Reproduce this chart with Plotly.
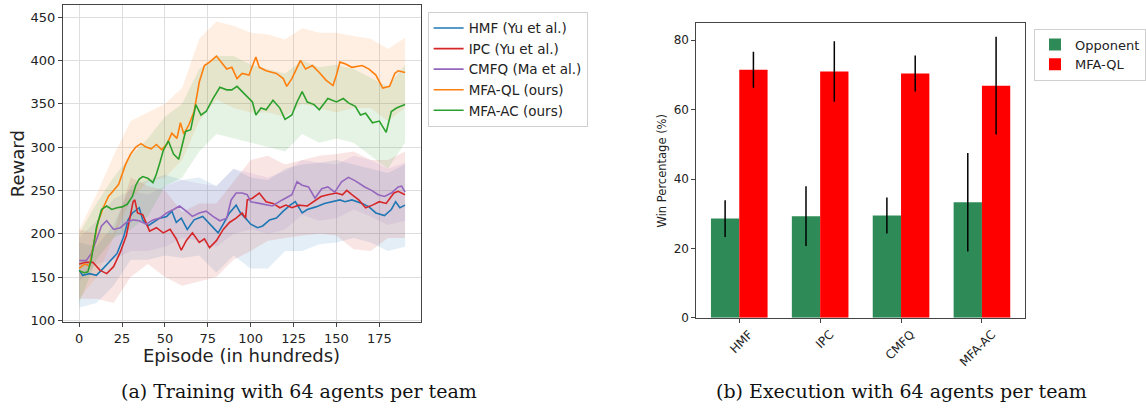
import plotly.graph_objects as go

# ---------------- Training curves (left) ----------------
ep_hmf = [0, 2, 6, 10, 14, 18, 22, 26, 28.5, 31, 35, 37, 40, 43, 47, 51, 54, 56.6, 59.5, 63, 67, 72, 76, 81, 84,
          87.6, 91.5, 94, 97, 100, 104, 107, 111, 115, 119, 123, 126, 130, 133, 138, 143, 148, 152, 155, 159, 165,
          169, 173, 178, 182, 184.5, 187, 190]
hmf_mean = [158, 152, 154, 152, 160, 169, 177, 197, 216, 224, 230, 216, 209, 213, 218, 220, 226, 213, 218, 205, 216,
            220, 211, 201, 211, 224, 233, 224, 218, 211, 207, 209, 216, 218, 226, 233, 237, 224, 228, 231, 235, 237,
            239, 237, 239, 235, 231, 224, 221, 228, 237, 230, 233]

ep_ipc = [0, 4, 8, 12, 16, 20, 24, 27.5, 31.4, 32.4, 34, 37, 41, 45, 49, 53, 56.6, 59.5, 62.4, 66, 70, 73, 76, 80, 84,
          87.6, 91.5, 95, 97, 98, 101, 105, 109, 113, 117, 120.5, 124, 128, 133, 137, 141, 145, 150, 153.5, 156, 159,
          163, 167, 171, 175, 179, 183.5, 186, 190]
ipc_mean = [165, 167, 167, 158, 154, 162, 179, 198, 237, 239, 224, 222, 203, 207, 201, 205, 194, 181, 192, 201, 190,
            194, 184, 192, 205, 213, 218, 224, 218, 239, 241, 247, 237, 235, 230, 233, 230, 233, 232, 237, 243, 245,
            247, 245, 250, 245, 239, 230, 233, 237, 235, 247, 249, 245]

ep_cmfq = [0, 4, 7, 10, 13, 16, 20, 24, 27.5, 31.4, 35, 39, 43, 47, 51, 55, 58.5, 62.4, 66, 70, 74, 78, 82, 86, 88.6,
           91.5, 95, 98, 100, 105, 112.6, 118.4, 124, 127, 130, 133.7, 137.5, 141.4, 145, 149, 153, 157, 161, 166.5,
           170.5, 174.3, 178, 182, 186, 188, 190]
cmfq_mean = [169, 169, 177, 194, 209, 215, 205, 207, 213, 216, 215, 211, 216, 218, 224, 228, 232, 226, 220, 224, 226,
             220, 215, 218, 239, 247, 247, 245, 237, 235, 232, 239, 245, 260, 256, 254, 241, 252, 254, 248, 260, 265,
             261, 254, 250, 245, 243, 247, 254, 255, 248]

ep_mfaql = [0, 3, 6, 8, 11, 14, 17, 20, 23, 27, 30, 33, 36, 39, 42, 45, 48, 51, 54, 57, 59, 61, 64, 67, 70, 73, 76, 80,
            83, 86, 89, 92, 95, 99, 103, 105, 109, 115, 119, 121, 124, 129, 132, 136, 140, 144, 148, 150, 152, 155,
            159, 165, 169, 173, 177, 181, 184, 186, 190]
mfaql_mean = [160, 165, 163, 184, 214, 230, 243, 250, 257, 280, 292, 300, 304, 300, 298, 303, 297, 303, 316, 310, 328,
              315, 326, 341, 375, 394, 398, 405, 398, 390, 392, 379, 385, 383, 404, 392, 388, 385, 379, 370, 379, 400,
              390, 394, 386, 377, 371, 383, 398, 396, 392, 394, 390, 383, 368, 370, 385, 388, 386]

ep_mfaac = [0, 3, 5, 7, 10, 13, 16, 19, 22, 25, 28, 31, 33, 35, 37, 40, 43, 45, 47, 49, 52, 55, 58, 62, 65, 68, 71, 74,
            78, 82, 86, 89, 92, 97, 101, 103, 106, 109, 113, 117, 120, 124, 127, 130, 133, 137, 140, 145, 150, 154,
            157, 161, 164, 167, 171, 175, 179, 182, 185, 190]
mfaac_mean = [157, 155, 156, 170, 207, 228, 232, 228, 230, 231, 234, 243, 256, 263, 266, 264, 259, 269, 282, 296, 307,
              292, 286, 318, 320, 349, 337, 341, 356, 369, 366, 366, 370, 360, 352, 337, 345, 343, 354, 345, 332, 337,
              352, 364, 352, 349, 343, 356, 352, 356, 351, 347, 337, 339, 328, 330, 317, 341, 345, 349]

band_ep = [0, 10, 20, 30, 40, 50, 60, 70, 80, 90, 100, 110, 120, 130, 140, 150, 160, 170, 180, 190]
hmf_upper = [190, 185, 210, 255, 262, 268, 262, 265, 255, 275, 265, 262, 275, 280, 282, 285, 280, 275, 270, 280]
hmf_lower = [115, 120, 140, 170, 170, 175, 172, 175, 155, 175, 160, 160, 180, 180, 188, 190, 195, 190, 180, 185]
ipc_upper = [205, 200, 200, 265, 255, 250, 225, 235, 235, 260, 285, 290, 280, 285, 290, 292, 295, 285, 285, 295]
ipc_lower = [125, 125, 120, 150, 165, 150, 140, 145, 150, 170, 180, 192, 195, 198, 200, 198, 182, 180, 195, 195]
cmfq_upper = [195, 215, 240, 250, 245, 255, 262, 258, 255, 275, 270, 265, 272, 285, 282, 280, 290, 285, 275, 282]
cmfq_lower = [145, 165, 170, 180, 180, 185, 195, 192, 185, 200, 205, 200, 205, 222, 215, 218, 228, 220, 210, 215]
mfaql_upper = [205, 245, 290, 330, 340, 350, 368, 425, 445, 440, 432, 430, 424, 437, 432, 432, 428, 425, 413, 426]
mfaql_lower = [125, 150, 195, 240, 260, 265, 285, 330, 355, 345, 340, 340, 335, 350, 345, 340, 345, 345, 330, 345]
mfaac_upper = [200, 235, 265, 290, 310, 335, 350, 390, 405, 405, 395, 390, 385, 400, 392, 395, 390, 380, 370, 395]
mfaac_lower = [120, 170, 195, 205, 220, 255, 265, 295, 315, 310, 305, 300, 295, 315, 305, 310, 305, 290, 275, 305]

train_series = [
    ("HMF (Yu et al.)", ep_hmf, hmf_mean, hmf_upper, hmf_lower, "#1f77b4", "rgba(31,119,180,0.12)"),
    ("IPC (Yu et al.)", ep_ipc, ipc_mean, ipc_upper, ipc_lower, "#d62728", "rgba(214,39,40,0.12)"),
    ("CMFQ (Ma et al.)", ep_cmfq, cmfq_mean, cmfq_upper, cmfq_lower, "#9467bd", "rgba(148,103,189,0.12)"),
    ("MFA-QL (ours)", ep_mfaql, mfaql_mean, mfaql_upper, mfaql_lower, "#ff7f0e", "rgba(255,127,14,0.12)"),
    ("MFA-AC (ours)", ep_mfaac, mfaac_mean, mfaac_upper, mfaac_lower, "#2ca02c", "rgba(44,160,44,0.12)"),
]

# ---------------- Execution win rates (right) ----------------
methods = ["HMF", "IPC", "CMFQ", "MFA-AC"]
opponent_win = [28.6, 29.3, 29.5, 33.3]
opponent_err = [5.3, 8.6, 5.2, 14.2]
mfaql_win = [71.5, 71.0, 70.4, 66.9]
mfaql_err = [5.2, 8.7, 5.2, 14.1]

fig = go.Figure()

for name, ep, mean, up, lo, col, fcol in train_series:
    fig.add_trace(go.Scatter(
        x=band_ep + band_ep[::-1], y=up + lo[::-1], fill="toself", fillcolor=fcol,
        line=dict(width=0), mode="lines", hoverinfo="skip", showlegend=False,
        xaxis="x", yaxis="y"))

for name, ep, mean, up, lo, col, fcol in train_series:
    fig.add_trace(go.Scatter(
        x=ep, y=mean, mode="lines", name=name, line=dict(color=col, width=1.6),
        xaxis="x", yaxis="y", legend="legend"))

fig.add_trace(go.Bar(
    x=methods, y=opponent_win, name="Opponent", marker=dict(color="#2e8b57", line=dict(width=0)),
    width=0.35, offset=-0.35,
    error_y=dict(type="data", array=opponent_err, color="black", thickness=1.5, width=0),
    xaxis="x2", yaxis="y2", legend="legend2"))
fig.add_trace(go.Bar(
    x=methods, y=mfaql_win, name="MFA-QL", marker=dict(color="#ff0000", line=dict(width=0)),
    width=0.35, offset=0.0,
    error_y=dict(type="data", array=mfaql_err, color="black", thickness=1.5, width=0),
    xaxis="x2", yaxis="y2", legend="legend2"))

W, H = 1146, 411
axis_common = dict(showline=True, linecolor="#444", linewidth=1, mirror=True, ticks="outside",
                   ticklen=4, tickcolor="#444", zeroline=False,
                   tickfont=dict(family="DejaVu Sans", size=13, color="#222"))
small_font = dict(family="DejaVu Sans", size=12, color="#222")


def label(text, x, y, size, family="DejaVu Sans", angle=0, color="#222"):
    return dict(text=text, x=x / W, y=1 - y / H, xref="paper", yref="paper", xanchor="center",
                yanchor="middle", textangle=angle, showarrow=False,
                font=dict(size=size, family=family, color=color))


fig.update_layout(
    width=W, height=H, margin=dict(l=0, r=0, t=0, b=0),
    paper_bgcolor="white", plot_bgcolor="white",
    font=dict(family="DejaVu Sans", color="#222"),
    barmode="overlay",
    xaxis=dict(domain=[63 / W, 421.7 / W], range=[-9.5, 199.5], tickvals=[0, 25, 50, 75, 100, 125, 150, 175],
               showgrid=True, gridcolor="#dedede", gridwidth=1, anchor="y", **axis_common),
    yaxis=dict(domain=[1 - 328 / H, 1 - 5 / H], range=[97.7, 464], tickvals=[100, 150, 200, 250, 300, 350, 400, 450],
               showgrid=True, gridcolor="#dedede", gridwidth=1, anchor="x", **axis_common),
    xaxis2=dict(domain=[697 / W, 1025.7 / W], range=[-0.53, 3.53], type="category", showgrid=False,
                anchor="y2", tickangle=-45, ticklabelshift=10, **{**axis_common, "tickfont": small_font}),
    yaxis2=dict(domain=[1 - 323.3 / H, 1 - 23.3 / H], range=[0, 85], tickvals=[0, 20, 40, 60, 80], showgrid=False,
                anchor="x2", **{**axis_common, "tickfont": small_font}),
    legend=dict(x=428 / W, y=1 - 12 / H, xanchor="left", yanchor="top", bgcolor="white",
                bordercolor="#d0d0d0", borderwidth=1, font=dict(family="DejaVu Sans", size=13.5, color="#222"),
                tracegroupgap=0, itemwidth=30),
    legend2=dict(x=1035 / W, y=1 - 29 / H, xanchor="left", yanchor="top", bgcolor="white",
                 bordercolor="#d0d0d0", borderwidth=1, font=dict(family="DejaVu Sans", size=13, color="#222"),
                 itemwidth=30),
    annotations=[
        label("Episode (in hundreds)", 242, 362, 18),
        label("Reward", 17, 166, 18, angle=-90),
        label("Win Percentage (%)", 663, 173, 11.5, angle=-90),
        label("(a) Training with 64 agents per team", 299, 398, 19, family="DejaVu Serif", color="#111"),
        label("(b) Execution with 64 agents per team", 902, 398, 19, family="DejaVu Serif", color="#111"),
    ],
)

fig.write_html("out.html")
